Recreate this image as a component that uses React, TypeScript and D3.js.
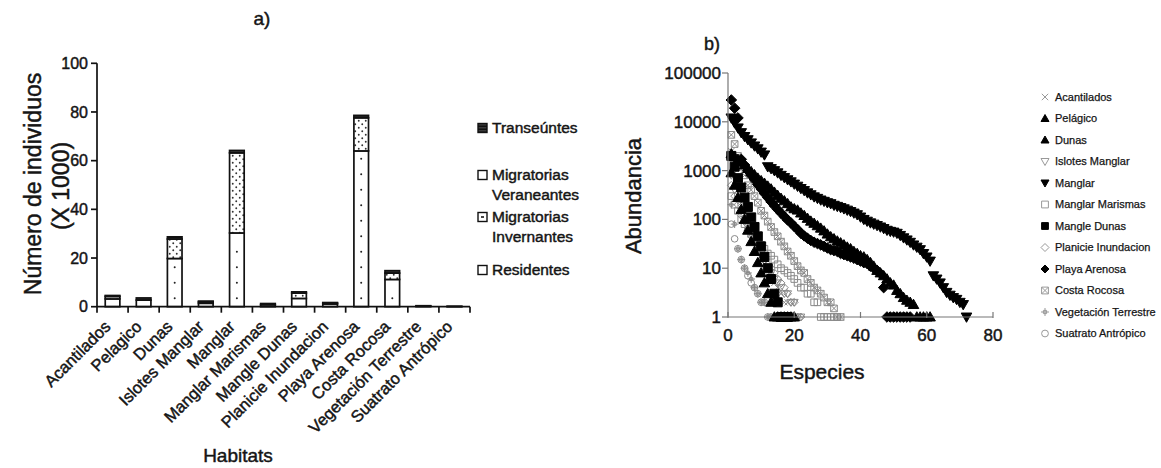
import React from "react";
import * as d3 from "d3";

// ---------- Panel a data ----------
const habitats = [
  "Acantilados", "Pelagico", "Dunas", "Islotes Manglar", "Manglar", "Manglar Marismas",
  "Mangle Dunas", "Planicie Inundacion", "Playa Arenosa", "Costa Rocosa",
  "Vegetación Terrestre", "Suatrato Antrópico",
];
const residentes = [3.2, 2.7, 19.8, 1.4, 30.3, 0.8, 3.4, 1.1, 64.0, 11.2, 0.3, 0.1];
const invernantes = [1.0, 0.0, 8.0, 0.6, 32.9, 0.0, 2.2, 0.4, 13.6, 2.6, 0.0, 0.0];
const veraneantes = [0, 0, 0, 0, 0, 0, 0, 0, 0, 0, 0, 0];
const transeuntes = [0.4, 0.9, 0.9, 0.3, 1.0, 0.5, 0.5, 0.2, 1.0, 1.0, 0.1, 0.05];
const yTicksA = [0, 20, 40, 60, 80, 100];
const legendA = [
  { key: "trans", lines: ["Transeúntes"] },
  { key: "ver", lines: ["Migratorias", "Veraneantes"] },
  { key: "inv", lines: ["Migratorias", "Invernantes"] },
  { key: "res", lines: ["Residentes"] },
];

// ---------- Panel b data (abundance by species rank) ----------
const acantiladosAb = [2500, 900, 400, 220, 130, 80, 50, 35, 25, 18, 12, 9, 7, 5, 4, 3, 2, 2, 1, 1];
const pelagicoAb = [900, 500, 280, 160, 100, 60, 35, 22, 13, 8, 5, 3, 2, 1, 1, 1, 1, 1, 1, 1];
const dunasAb = [
  2200, 1900, 1700, 1500, 1300, 1100, 950, 820, 700, 620, 550, 480, 420, 360, 310, 270,
  240, 210, 180, 165, 155, 135, 120, 105, 92, 83, 74, 66, 58, 50, 44, 40, 36, 33, 30, 27,
  25, 22, 20, 18, 17, 15, 13, 11, 9, 8, 7, 6, 5, 4.5, 3.5, 3, 2.5, 2.2, 2, 1.8, 1, 1, 1, 1, 1,
];
const islotesAb = [800, 400, 250, 150, 100, 70, 50, 35, 25, 18, 14, 10, 8, 6, 5, 4, 3, 3, 2, 2, 1, 1];
const manglarAb = [
  12000, 9500, 7500, 6000, 5000, 4300, 3700, 3200, 2800, 2400, 2100, 1200, 1100, 1000, 900,
  800, 720, 650, 590, 530, 480, 430, 390, 350, 320, 290, 270, 250, 235, 220, 210, 195, 185,
  175, 165, 155, 145, 135, 125, 112, 100, 92, 85, 80, 75, 70, 65, 60, 57, 55, 52, 47, 42,
  38, 34, 30, 27, 24, 20, 17, 14, 7, 6, 5, 4, 3.2, 2.8, 2.5, 2.3, 2, 1.8, 1,
];
const marismasAb = [300, 200, 150, 100, 80, 60, 50, 40, 35, 30, 25, 20, 18, 15, 12, 10, 9, 8, 7, 6, 5, 4, 4, 3, 3, 2, 2, 1, 1, 1, 1, 1, 1];
const mangleDunasAb = [2000, 1200, 700, 450, 280, 180, 110, 70, 45, 28, 17, 10, 6, 3, 2, 1, 1, 1];
const planicieAb = [500, 300, 200, 120, 90, 60, 45, 35, 25, 20, 15, 12, 10, 8, 6, 5, 4, 3, 2, 2, 1, 1];
const playaAb = [
  28000, 19000, 12000, 1700, 1300, 1000, 800, 650, 520, 420, 340, 280, 230, 190, 160, 135,
  115, 97, 85, 72, 62, 52, 46, 41, 37, 34, 32, 30, 28, 26, 24, 23, 22, 20, 19, 18, 17, 16,
  15, 14, 13, 12.5, 11, 10, 9, 7.8, 4, 1, 1, 1, 1, 1, 1, 1, 1,
];
const costaAb = [
  5400, 3500, 2000, 1200, 800, 500, 400, 300, 220, 150, 120, 90, 70, 55, 45, 35, 28, 22, 18,
  14, 11, 9, 8, 6, 5, 4, 3.5, 3, 2.5, 2, 2, 1.5, 1, 1,
];
const vegetacionAb = [200, 80, 25, 15, 10, 8, 6, 4, 3, 2, 2, 1, 1];
const suatratoAb = [80, 40, 25, 15, 10, 7, 5, 4, 3, 2, 2, 1, 1];
const yTicksB = [1, 10, 100, 1000, 10000, 100000];
const xTicksB = [0, 20, 40, 60, 80];

type Marker = "x" | "triUp" | "triDown" | "square" | "diamond" | "circle" | "plus" | "squareX";
const seriesB: { name: string; values: number[]; marker: Marker; filled: boolean }[] = [
  { name: "Acantilados", values: acantiladosAb, marker: "x", filled: false },
  { name: "Pelágico", values: pelagicoAb, marker: "triUp", filled: true },
  { name: "Dunas", values: dunasAb, marker: "triUp", filled: true },
  { name: "Islotes Manglar", values: islotesAb, marker: "triDown", filled: false },
  { name: "Manglar", values: manglarAb, marker: "triDown", filled: true },
  { name: "Manglar Marismas", values: marismasAb, marker: "square", filled: false },
  { name: "Mangle Dunas", values: mangleDunasAb, marker: "square", filled: true },
  { name: "Planicie Inundacion", values: planicieAb, marker: "diamond", filled: false },
  { name: "Playa Arenosa", values: playaAb, marker: "diamond", filled: true },
  { name: "Costa Rocosa", values: costaAb, marker: "squareX", filled: false },
  { name: "Vegetación Terrestre", values: vegetacionAb, marker: "plus", filled: false },
  { name: "Suatrato Antrópico", values: suatratoAb, marker: "circle", filled: false },
];

const FONT = "'Liberation Sans', Arial, Helvetica, sans-serif";
const INK = "#151515";
const bold = { stroke: INK, strokeWidth: 0.45 };

function markerPath(m: Marker, s: number): string {
  switch (m) {
    case "triUp":
      return `M0,${-s}L${s},${s * 0.75}L${-s},${s * 0.75}Z`;
    case "triDown":
      return `M0,${s}L${s},${-s * 0.75}L${-s},${-s * 0.75}Z`;
    case "square":
      return `M${-s * 0.85},${-s * 0.85}H${s * 0.85}V${s * 0.85}H${-s * 0.85}Z`;
    case "squareX":
      return `M${-s * 0.85},${-s * 0.85}H${s * 0.85}V${s * 0.85}H${-s * 0.85}ZM${-s * 0.85},${-s * 0.85}L${s * 0.85},${s * 0.85}M${s * 0.85},${-s * 0.85}L${-s * 0.85},${s * 0.85}`;
    case "diamond":
      return `M0,${-s}L${s},0L0,${s}L${-s},0Z`;
    case "circle":
      return d3.symbol(d3.symbolCircle, Math.PI * (s * 0.85) ** 2)() || "";
    case "x":
      return `M${-s * 0.8},${-s * 0.8}L${s * 0.8},${s * 0.8}M${s * 0.8},${-s * 0.8}L${-s * 0.8},${s * 0.8}`;
    case "plus":
      return `M0,${-s}V${s}M${-s},0H${s}M${-s * 0.4},${-s * 0.4}H${s * 0.4}V${s * 0.4}H${-s * 0.4}Z`;
  }
}

export default function App() {
  // ---------- Panel a scales ----------
  const xA = d3.scaleBand<string>().domain(habitats).range([97, 470]).padding(0);
  const yA = d3.scaleLinear().domain([0, 100]).range([306.7, 63.3]);
  const barW = xA.bandwidth() * 0.47;

  const stacks = habitats.map((h, i) => {
    const segs = [
      { key: "res", v: residentes[i] },
      { key: "inv", v: invernantes[i] },
      { key: "ver", v: veraneantes[i] },
      { key: "trans", v: transeuntes[i] },
    ];
    let acc = 0;
    return segs.map((s) => {
      const y0 = acc;
      acc += s.v;
      return { ...s, y0, y1: acc, h };
    });
  });

  // ---------- Panel b scales ----------
  const xB = d3.scaleLinear().domain([0, 80]).range([728, 993]);
  const yB = d3.scaleLog().domain([1, 100000]).range([317, 73]);

  const grayOrder = seriesB.filter((s) => !s.filled);
  const blackOrder = seriesB.filter((s) => s.filled);

  return (
    <svg
      width={1161}
      height={468}
      style={{ position: "absolute", left: 0, top: 0, background: "#fff" }}
      fontFamily={FONT}
    >
      <defs>
        <pattern id="invPat" patternUnits="userSpaceOnUse" width={7} height={7}>
          <rect width={7} height={7} fill="#fff" />
          <circle cx={1.75} cy={1.75} r={0.95} fill="#333" />
          <circle cx={5.25} cy={5.25} r={0.95} fill="#333" />
        </pattern>
        <pattern id="transPat" patternUnits="userSpaceOnUse" width={4} height={3}>
          <rect width={4} height={3} fill="#111" />
          <rect y={1.6} width={4} height={0.6} fill="#777" />
        </pattern>
      </defs>
      <rect width={1161} height={468} fill="#fff" />

      {/* ================= Panel a ================= */}
      <text x={262} y={25} fontSize={19} textAnchor="middle" fill={INK} {...bold}>a)</text>

      {/* bars */}
      {stacks.map((segs) =>
        segs.map((s) => {
          if (s.v <= 0) return null;
          const cx = (xA(s.h) as number) + xA.bandwidth() / 2;
          const top = yA(s.y1);
          const bot = yA(s.y0);
          const fill = s.key === "inv" ? "url(#invPat)" : s.key === "trans" ? "url(#transPat)" : "#fff";
          const dots: number[] = [];
          if (s.key === "res") {
            for (let yy = bot - 8.5; yy > top + 4; yy -= 15.5) dots.push(yy);
          }
          return (
            <g key={s.h + s.key}>
              <rect x={cx - barW / 2} y={top} width={barW} height={bot - top} fill={fill} stroke="#111" strokeWidth={1.7} />
              {dots.map((dy, k) => (
                <circle key={k} cx={cx} cy={dy} r={1} fill="#222" />
              ))}
            </g>
          );
        })
      )}

      {/* y axis a */}
      <line x1={97} x2={97} y1={yA(100)} y2={yA(0)} stroke="#111" strokeWidth={1.7} />
      {yTicksA.map((t) => (
        <g key={t}>
          <line x1={91} x2={97} y1={yA(t)} y2={yA(t)} stroke="#111" strokeWidth={1.7} />
          <text x={88} y={yA(t)} dy="0.35em" fontSize={16} textAnchor="end" fill={INK} {...bold}>{t}</text>
        </g>
      ))}
      {/* x axis a */}
      <line x1={97} x2={470} y1={yA(0)} y2={yA(0)} stroke="#111" strokeWidth={1.7} />
      {[...habitats.map((h) => xA(h) as number), 470].map((x, i) => (
        <line key={i} x1={x} x2={x} y1={yA(0)} y2={yA(0) + 6} stroke="#111" strokeWidth={1.7} />
      ))}
      {habitats.map((h) => {
        const cx = (xA(h) as number) + xA.bandwidth() / 2;
        return (
          <text key={h} transform={`translate(${cx - 1},${yA(0) + 21}) rotate(-45)`} fontSize={16.5} textAnchor="end" fill={INK} {...bold}>
            {h}
          </text>
        );
      })}
      <text x={238} y={462} fontSize={19} textAnchor="middle" fill={INK} {...bold}>Habitats</text>
      <text transform="translate(41,184) rotate(-90)" fontSize={23} textAnchor="middle" fill={INK} {...bold}>Número de individuos</text>
      <text transform="translate(69,186) rotate(-90)" fontSize={23} textAnchor="middle" fill={INK} {...bold}>(X 1000)</text>

      {/* legend a */}
      {(() => {
        const rows = [128, 175, 217, 270];
        return legendA.map((l, i) => {
          const y = rows[i];
          const fill = l.key === "trans" ? "url(#transPat)" : "#fff";
          return (
            <g key={l.key}>
              <rect x={478} y={y - 4.5} width={9} height={9} fill={fill} stroke="#111" strokeWidth={1.4} />
              {l.key === "inv" && <rect x={481} y={y - 1} width={3} height={2} fill="#444" />}
              {l.lines.map((ln, k) => (
                <text key={k} x={492} y={y + k * 20} dy="0.35em" fontSize={15.5} fill={INK} {...bold}>{ln}</text>
              ))}
            </g>
          );
        });
      })()}

      {/* ================= Panel b ================= */}
      <text x={712} y={50} fontSize={18} textAnchor="middle" fill={INK} {...bold}>b)</text>

      {/* gray open series */}
      {grayOrder.map((s) => (
        <g key={s.name} fill="none" stroke="#8a8a8a" strokeWidth={1}>
          {s.values.map((v, i) => (
            <path key={i} transform={`translate(${xB(i + 1)},${yB(v)})`} d={markerPath(s.marker, 3.9)} />
          ))}
        </g>
      ))}
      {/* black filled series */}
      {blackOrder.map((s) => (
        <g key={s.name} fill="#000" stroke="#000" strokeWidth={1}>
          {s.values.map((v, i) => (
            <path key={i} transform={`translate(${xB(i + 1)},${yB(v)})`} d={markerPath(s.marker, 5.3)} />
          ))}
        </g>
      ))}

      {/* axes b */}
      <line x1={728} x2={728} y1={yB(100000)} y2={yB(1)} stroke="#777" strokeWidth={1.2} />
      {yTicksB.map((t) => (
        <g key={t}>
          <line x1={722} x2={728} y1={yB(t)} y2={yB(t)} stroke="#777" strokeWidth={1.2} />
          <text x={721} y={yB(t)} dy="0.35em" fontSize={17} textAnchor="end" fill={INK} {...bold}>{t}</text>
        </g>
      ))}
      <line x1={728} x2={993} y1={yB(1)} y2={yB(1)} stroke="#777" strokeWidth={1.2} />
      {xTicksB.map((t) => (
        <g key={t}>
          <line x1={xB(t)} x2={xB(t)} y1={yB(1) - 5} y2={yB(1) + 1} stroke="#777" strokeWidth={1.2} />
          <text x={xB(t)} y={yB(1) + 24} fontSize={17} textAnchor="middle" fill={INK} {...bold}>{t}</text>
        </g>
      ))}
      <text transform="translate(641,196) rotate(-90)" fontSize={22} textAnchor="middle" fill={INK} {...bold}>Abundancia</text>
      <text x={822} y={379} fontSize={21} textAnchor="middle" fill={INK} {...bold}>Especies</text>

      {/* legend b */}
      {seriesB.map((s, i) => {
        const y = 97 + i * 21.5;
        return (
          <g key={s.name}>
            <path
              transform={`translate(1045,${y})`}
              d={markerPath(s.marker, 4)}
              fill={s.filled ? "#000" : "none"}
              stroke={s.filled ? "#000" : "#999"}
              strokeWidth={1}
            />
            <text x={1055} y={y} dy="0.35em" fontSize={11} fill={INK} stroke={INK} strokeWidth={0.25}>{s.name}</text>
          </g>
        );
      })}
    </svg>
  );
}
